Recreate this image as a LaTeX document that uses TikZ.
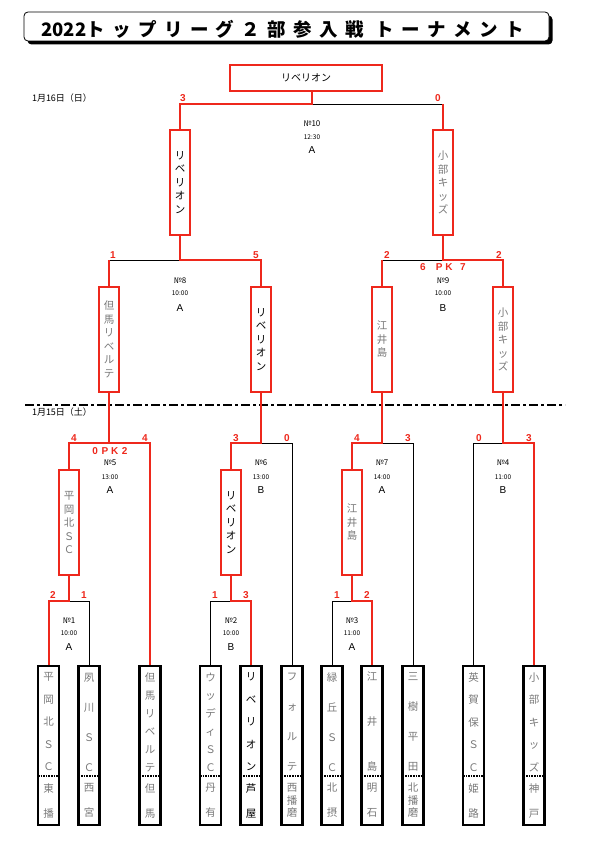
\documentclass[tikz,border=0pt]{standalone}
\usepackage{fontspec}
\newfontfamily\jp{Noto Sans CJK JP}
\newfontfamily\lat{Liberation Sans}
\usetikzlibrary{shadows}
\definecolor{bred}{RGB}{238,40,28}
\definecolor{tgray}{RGB}{120,120,120}

\begin{document}
\begin{tikzpicture}[
        x=1pt, y=-1pt,
        font=\jp,
        win/.style={draw=bred, line width=2pt},
        lose/.style={draw=black, line width=1pt},
        divider/.style={line width=2.5pt, dash pattern=on 9pt off 3pt on 3pt off 3pt},
        titlebox/.style={draw, line width=0.8pt, rounded corners=4pt, fill=white, minimum width=525pt, minimum height=29pt,
            drop shadow={shadow xshift=3.5pt, shadow yshift=-3.5pt, fill=black, opacity=1}},
        titletext/.style={inner sep=0pt, font=\jp\bfseries\fontsize{18.5}{18.5}\selectfont},
        finbox/.style={draw=bred, line width=2pt, minimum width=152pt, minimum height=26pt, font=\jp\fontsize{10}{10}\selectfont},
        rbox/.style={draw=bred, line width=2pt, minimum width=20pt, minimum height=105pt, inner sep=0pt, align=center,
            text=tgray, font=\jp\fontsize{10.5}{13.5}\selectfont},
        team/.style={draw, line width=2.5pt, minimum width=21pt, minimum height=159pt, inner sep=0pt,
            path picture={\draw[line width=1.6pt, densely dotted] ([yshift=49pt]path picture bounding box.south west)
                -- ([yshift=49pt]path picture bounding box.south east);}},
        tname/.style={anchor=north, minimum height=114pt, inner sep=0pt, align=center, text=tgray, font=\jp\fontsize{10.5}{#1}\selectfont},
        rname/.style={anchor=south, minimum height=51pt, inner sep=0pt, align=center, text=tgray, font=\jp\fontsize{10.5}{#1}\selectfont},
        score/.style={inner sep=0pt, text=bred, font=\lat\bfseries\fontsize{10}{10}\selectfont},
        mno/.style={inner sep=0pt, font=\jp\fontsize{8}{8}\selectfont},
        mtime/.style={inner sep=0pt, font=\jp\fontsize{6.5}{6.5}\selectfont},
        mgrp/.style={inner sep=0pt, font=\lat\fontsize{10}{10}\selectfont},
        day/.style={inner sep=0pt, font=\jp\fontsize{9}{9}\selectfont}
    ]
        \useasboundingbox (0,0) rectangle (589,851);

        % title
        \node[titlebox] (title) at (286.5,26.5) {};
        \node[titletext] (titletxt) at (282.5,29) {2022\addfontfeature{LetterSpace=40}トップリーグ２部参入戦 トーナメント};

        \node[day] (day2) at (62,98) {1月16日（日）};
        \node[day] (day1) at (62,412) {1月15日（土）};
        \coordinate (divL) at (25,405);
        \coordinate (divR) at (565,405);
        \draw[divider] (divL) -- (divR);

        % boxes
        \node[finbox] (fin) at (306,78) {リベリオン};
        \node[rbox, text=black] (s1) at (180,182.5) {リ\\ベ\\リ\\オ\\ン};
        \node[rbox] (s2) at (443,182.5) {小\\部\\キ\\ッ\\ズ};
        \node[rbox] (q1) at (109,339.5) {但\\馬\\リ\\ベ\\ル\\テ};
        \node[rbox, text=black] (q2) at (261,339.5) {リ\\ベ\\リ\\オ\\ン};
        \node[rbox] (q3) at (382,339.5) {江\\井\\島};
        \node[rbox] (q4) at (503,339.5) {小\\部\\キ\\ッ\\ズ};
        \node[rbox] (r1) at (69,522.5) {平\\岡\\北\\Ｓ\\Ｃ};
        \node[rbox, text=black] (r2) at (231,522.5) {リ\\ベ\\リ\\オ\\ン};
        \node[rbox] (r3) at (352,522.5) {江\\井\\島};

        % teams
        \node[team, label={[tname=22.5]north:平\\岡\\北\\Ｓ\\Ｃ}, label={[rname=25]south:東\\播}] (t1) at (48.5,745.5) {};
        \node[team, label={[tname=30]north:夙\\川\\Ｓ\\Ｃ}, label={[rname=25]south:西\\宮}] (t2) at (89,745.5) {};
        \node[team, label={[tname=18]north:但\\馬\\リ\\ベ\\ル\\テ}, label={[rname=25]south:但\\馬}] (t3) at (150,745.5) {};
        \node[team, label={[tname=18]north:ウ\\ッ\\デ\\ィ\\Ｓ\\Ｃ}, label={[rname=25]south:丹\\有}] (t4) at (210.5,745.5) {};
        \node[team, label={[tname=22.5, text=black]north:リ\\ベ\\リ\\オ\\ン}, label={[rname=25, text=black]south:芦\\屋}] (t5) at (251,745.5) {};
        \node[team, label={[tname=30]north:フ\\ォ\\ル\\テ}, label={[rname=12.5]south:西\\播\\磨}] (t6) at (292,745.5) {};
        \node[team, label={[tname=30]north:緑\\丘\\Ｓ\\Ｃ}, label={[rname=25]south:北\\摂}] (t7) at (332,745.5) {};
        \node[team, label={[tname=45]north:江\\井\\島}, label={[rname=25]south:明\\石}] (t8) at (372,745.5) {};
        \node[team, label={[tname=30]north:三\\樹\\平\\田}, label={[rname=12.5]south:北\\播\\磨}] (t9) at (413,745.5) {};
        \node[team, label={[tname=22.5]north:英\\賀\\保\\Ｓ\\Ｃ}, label={[rname=25]south:姫\\路}] (t10) at (473.5,745.5) {};
        \node[team, label={[tname=22.5]north:小\\部\\キ\\ッ\\ズ}, label={[rname=25]south:神\\戸}] (t11) at (534,745.5) {};

        % match points
        \coordinate (m10) at (312,104);
        \coordinate (m8) at (180,260);
        \coordinate (m9) at (443,260);
        \coordinate (m5) at (109,443);
        \coordinate (m6) at (261,443);
        \coordinate (m7) at (382,443);
        \coordinate (m4) at (503,443);
        \coordinate (m1) at (69,601);
        \coordinate (m2) at (231,601);
        \coordinate (m3) at (352,601);

        % losers
        \draw[lose] (s2.north |- m10) -- (m10);
        \draw[lose] (q1.north |- m8) -- (m8);
        \draw[lose] (q3.north |- m9) -- (m9);
        \draw[lose] (t6.north) |- (m6);
        \draw[lose] (t9.north) |- (m7);
        \draw[lose] (t10.north) |- (m4);
        \draw[lose] (t2.north) |- (m1);
        \draw[lose] (t4.north) |- (m2);
        \draw[lose] (t7.north) |- (m3);
        \draw[win] (s2.north) -- (s2.north |- m10);
        \draw[win] (q1.north) -- (q1.north |- m8);
        \draw[win] (q3.north) -- (q3.north |- m9);

        % winners
        \draw[win] (s1.north) |- (m10) -- (m10 |- fin.south);
        \draw[win] (q2.north) |- (m8) -- (s1.south);
        \draw[win] (q4.north) |- (m9) -- (s2.south);
        \draw[win] (t3.north) |- (m5) -- (q1.south);
        \draw[win] (r1.north) |- (m5);
        \draw[win] (r2.north) |- (m6) -- (q2.south);
        \draw[win] (r3.north) |- (m7) -- (q3.south);
        \draw[win] (t11.north) |- (m4) -- (q4.south);
        \draw[win] (t1.north) |- (m1) -- (r1.south);
        \draw[win] (t5.north) |- (m2) -- (r2.south);
        \draw[win] (t8.north) |- (m3) -- (r3.south);

        % scores
        \node[score] (sc10a) at (183,98) {3};
        \node[score] (sc10b) at (438,98) {0};
        \node[score] (sc8a) at (113,255) {1};
        \node[score] (sc8b) at (256,255) {5};
        \node[score] (sc9a) at (387,255) {2};
        \node[score] (sc9b) at (499,255) {2};
        \node[score] (pk9) at (443,267) {6\hspace{10pt}P\hspace{3pt}K\hspace{7.5pt}7};
        \node[score] (sc5a) at (74,438) {4};
        \node[score] (sc5b) at (145,438) {4};
        \node[score] (pk5) at (110,451) {0\hspace{3.5pt}P\hspace{3pt}K\hspace{3.5pt}2};
        \node[score] (sc6a) at (236,438) {3};
        \node[score] (sc6b) at (287,438) {0};
        \node[score] (sc7a) at (357,438) {4};
        \node[score] (sc7b) at (408,438) {3};
        \node[score] (sc4a) at (479,438) {0};
        \node[score] (sc4b) at (529,438) {3};
        \node[score] (sc1a) at (53,595) {2};
        \node[score] (sc1b) at (84,595) {1};
        \node[score] (sc2a) at (215,595) {1};
        \node[score] (sc2b) at (246,595) {3};
        \node[score] (sc3a) at (337,595) {1};
        \node[score] (sc3b) at (367,595) {2};

        % match info
        \node[mno] (no10) at (312,124) {№10};
        \node[mtime] (tm10) at (312,137) {12:30};
        \node[mgrp] (gr10) at (312,150) {A};
        \node[mno] (no8) at (180,281) {№8};
        \node[mtime] (tm8) at (180,293) {10:00};
        \node[mgrp] (gr8) at (180,308) {A};
        \node[mno] (no9) at (443,281) {№9};
        \node[mtime] (tm9) at (443,293) {10:00};
        \node[mgrp] (gr9) at (443,308) {B};
        \node[mno] (no5) at (110,463) {№5};
        \node[mtime] (tm5) at (110,477) {13:00};
        \node[mgrp] (gr5) at (110,490) {A};
        \node[mno] (no6) at (261,463) {№6};
        \node[mtime] (tm6) at (261,477) {13:00};
        \node[mgrp] (gr6) at (261,490) {B};
        \node[mno] (no7) at (382,463) {№7};
        \node[mtime] (tm7) at (382,477) {14:00};
        \node[mgrp] (gr7) at (382,490) {A};
        \node[mno] (no4) at (503,463) {№4};
        \node[mtime] (tm4) at (503,477) {11:00};
        \node[mgrp] (gr4) at (503,490) {B};
        \node[mno] (no1) at (69,621) {№1};
        \node[mtime] (tm1) at (69,633) {10:00};
        \node[mgrp] (gr1) at (69,647) {A};
        \node[mno] (no2) at (231,621) {№2};
        \node[mtime] (tm2) at (231,633) {10:00};
        \node[mgrp] (gr2) at (231,647) {B};
        \node[mno] (no3) at (352,621) {№3};
        \node[mtime] (tm3) at (352,633) {11:00};
        \node[mgrp] (gr3) at (352,647) {A};
    \end{tikzpicture}
\end{document}
